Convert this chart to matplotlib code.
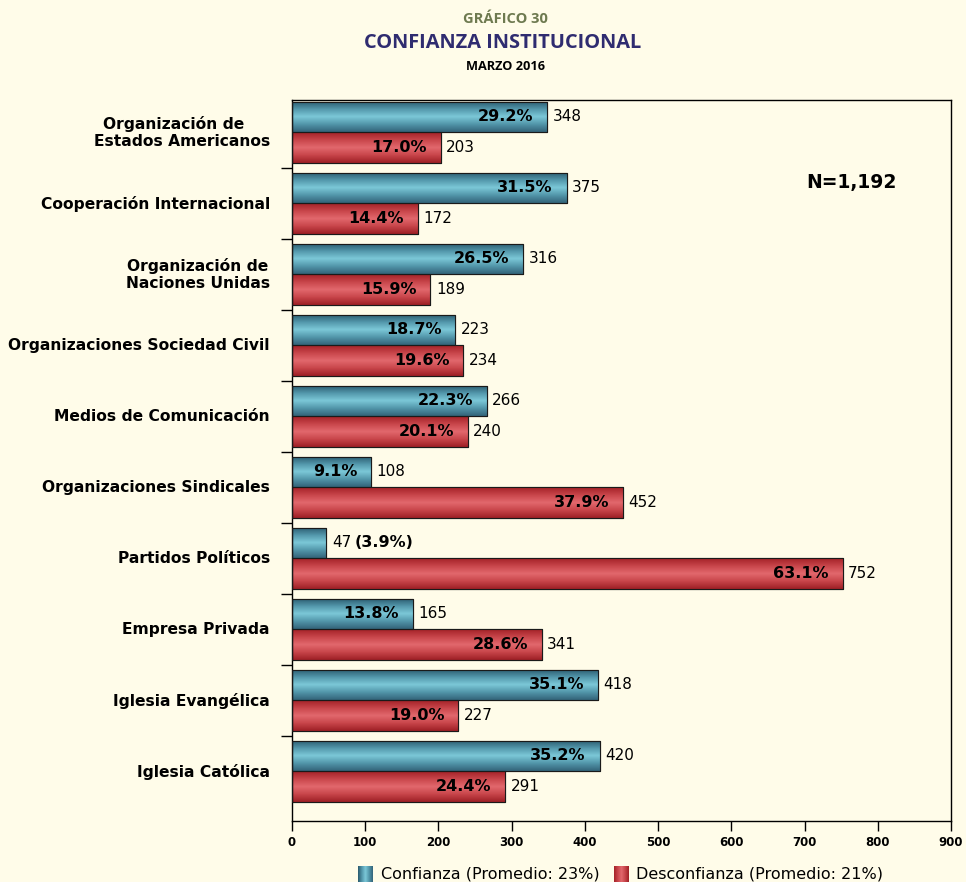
import numpy as np
import matplotlib.pyplot as plt
import matplotlib.colors

plt.rcParams["font.family"] = ["DejaVu Sans"]

categories = [
    "Organización de   \nEstados Americanos",
    "Cooperación Internacional",
    "Organización de\nNaciones Unidas",
    "Organizaciones Sociedad Civil",
    "Medios de Comunicación",
    "Organizaciones Sindicales",
    "Partidos Políticos",
    "Empresa Privada",
    "Iglesia Evangélica",
    "Iglesia Católica",
]
confianza = [348, 375, 316, 223, 266, 108, 47, 165, 418, 420]
confianza_pct = ["29.2%", "31.5%", "26.5%", "18.7%", "22.3%", "9.1%", "3.9%", "13.8%", "35.1%", "35.2%"]
desconfianza = [203, 172, 189, 234, 240, 452, 752, 341, 227, 291]
desconfianza_pct = ["17.0%", "14.4%", "15.9%", "19.6%", "20.1%", "37.9%", "63.1%", "28.6%", "19.0%", "24.4%"]
legend_labels = ["Confianza (Promedio: 23%)", "Desconfianza (Promedio: 21%)"]
xticks = [0, 100, 200, 300, 400, 500, 600, 700, 800, 900]

bg = "#FFFCE9"
blue_cmap = matplotlib.colors.LinearSegmentedColormap.from_list(
    "b", ["#2A5A6E", "#5296AA", "#7CC8D8", "#5296AA", "#33647A"])
red_cmap = matplotlib.colors.LinearSegmentedColormap.from_list(
    "r", ["#A42228", "#C8454A", "#E2686D", "#C8454A", "#9E2026"])

fig = plt.figure(figsize=(9.66, 8.82), dpi=100, facecolor=bg)
ax = fig.add_axes([292 / 966, 1 - 821 / 882, 659 / 966, 721 / 882])
ax.set_facecolor(bg)

y = np.arange(len(categories))
h = 0.425
b1 = ax.barh(y + 0.28, confianza, height=h, color="#5296AA", edgecolor="#1a1a1a", lw=0.8, zorder=2)
b2 = ax.barh(y + 0.71, desconfianza, height=h, color="#C8454A", edgecolor="#1a1a1a", lw=0.8, zorder=2)

grad = np.linspace(0, 1, 64).reshape(-1, 1)
for bars, cmap in [(b1, blue_cmap), (b2, red_cmap)]:
    for p in bars:
        x0, y0 = p.get_x(), p.get_y()
        im = ax.imshow(grad, cmap=cmap, aspect="auto", origin="upper",
                       extent=[x0, x0 + p.get_width(), y0 + p.get_height(), y0],
                       zorder=2.5, interpolation="bilinear")
        im.set_clip_path(p)
        edge = plt.Rectangle((x0, y0), p.get_width(), p.get_height(), fill=False,
                             ec="#1a1a1a", lw=0.8, zorder=3)
        ax.add_patch(edge)

ax.set_xlim(0, 900)
ax.set_ylim(10.197, 0.042)

# labels
for i in range(len(categories)):
    c, d = confianza[i], desconfianza[i]
    ax.annotate(str(c), (c, i + 0.28), xytext=(4, 0), textcoords="offset points",
                va="center", ha="left", fontsize=11, zorder=4)
    if c < 60:
        ax.annotate("(" + confianza_pct[i] + ")", (c, i + 0.28), xytext=(20, 0),
                    textcoords="offset points", va="center", ha="left",
                    fontsize=11.5, fontweight="bold", zorder=4)
    else:
        ax.annotate(confianza_pct[i], (c, i + 0.28), xytext=(-10, 0), textcoords="offset points",
                    va="center", ha="right", fontsize=11.5, fontweight="bold", zorder=4)
    ax.annotate(str(d), (d, i + 0.71), xytext=(4, 0), textcoords="offset points",
                va="center", ha="left", fontsize=11, zorder=4)
    ax.annotate(desconfianza_pct[i], (d, i + 0.71), xytext=(-10, 0), textcoords="offset points",
                va="center", ha="right", fontsize=11.5, fontweight="bold", zorder=4)
    ax.annotate(categories[i], (0, i + 0.5), xytext=(-16, 0), textcoords="offset points",
                ha="right", va="center", ma="center", fontsize=11.2, fontweight="bold",
                linespacing=1.12)

ax.set_xticks(xticks)
ax.set_xticklabels([str(t) for t in xticks], fontsize=8.5, fontweight="bold")
ax.tick_params(axis="x", direction="out", length=7, width=1, pad=4)
ax.set_yticks([])
ax.set_yticks(np.arange(1, 10), minor=True)
ax.tick_params(axis="y", which="minor", direction="out", length=8, width=1, labelleft=False)
for s in ax.spines.values():
    s.set_color("black")
    s.set_linewidth(1)

ax.text(0.917, 0.886, "N=1,192", transform=ax.transAxes, ha="right", va="center",
        fontsize=13.5, fontweight="bold")

fig.text(505 / 966, 1 - 19 / 882, "GRÁFICO 30", ha="center", va="center",
         fontsize=10.5, fontweight="bold", color="#6E7A50", family="Open Sans")
fig.text(503 / 966, 1 - 43 / 882, "CONFIANZA INSTITUCIONAL", ha="center", va="center",
         fontsize=14.4, fontweight="bold", color="#2F2C70", family="Open Sans")
fig.text(505 / 966, 1 - 66 / 882, "MARZO 2016", ha="center", va="center",
         fontsize=9.2, fontweight="bold", color="black", family="Open Sans")

# legend
hgrad = np.linspace(0, 1, 64).reshape(1, -1)
for cmap, lx, tx, label in [(blue_cmap, 358, 381, legend_labels[0]),
                            (red_cmap, 614, 636, legend_labels[1])]:
    lax = fig.add_axes([lx / 966, 0, 15 / 966, 16 / 882])
    lax.imshow(hgrad, cmap=cmap, aspect="auto", interpolation="bilinear")
    lax.axis("off")
    fig.text(tx / 966, 1 - 874 / 882, label, ha="left", va="center", fontsize=11.5)

fig.savefig("out.png", dpi=100, facecolor=bg)
